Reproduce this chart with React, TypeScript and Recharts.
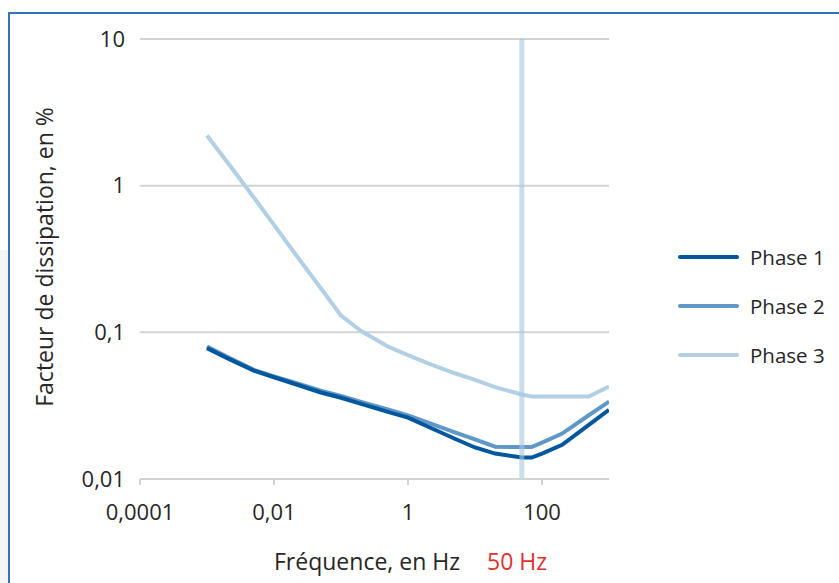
import React from 'react';
import { LineChart, Line, XAxis, YAxis, CartesianGrid, ReferenceLine } from 'recharts';

const freqs = [0.001, 0.002, 0.005, 0.01, 0.02, 0.05, 0.1, 0.2, 0.5, 1, 2, 5, 10, 20, 50, 70, 100, 200, 500, 1000];
const phase1 = [0.078, 0.0667, 0.0548, 0.0494, 0.0446, 0.0389, 0.0358, 0.0325, 0.0287, 0.0262, 0.0227, 0.0188, 0.0164, 0.0149, 0.014, 0.014, 0.0149, 0.0171, 0.0234, 0.0296];
const phase2 = [0.08, 0.068, 0.0555, 0.05, 0.0455, 0.04, 0.0368, 0.0336, 0.0298, 0.0271, 0.0242, 0.0208, 0.0186, 0.0166, 0.0165, 0.0165, 0.0177, 0.0204, 0.0272, 0.0337];
const phase3 = [2.2, 1.45, 0.83, 0.54, 0.35, 0.2, 0.13, 0.102, 0.08, 0.07, 0.0615, 0.0526, 0.0474, 0.0423, 0.0377, 0.0365, 0.0365, 0.0365, 0.0365, 0.0427];

const xTicks = [0.0001, 0.01, 1, 100];
const yTicks = [0.01, 0.1, 1, 10];

const series = [
  { key: 'p1', name: 'Phase 1', color: '#00579e' },
  { key: 'p2', name: 'Phase 2', color: '#5f98c6' },
  { key: 'p3', name: 'Phase 3', color: '#b2cfe4' },
];

const data = freqs.map((f, i) => ({ f, p1: phase1[i], p2: phase2[i], p3: phase3[i] }));

const fr = (v: number) => String(v).replace('.', ',');
const font = '"Open Sans", "Noto Sans", sans-serif';
const txt = '#262626';

export default function App() {
  return (
    <div style={{ position: 'absolute', left: 0, top: 0, width: 839, height: 583, background: '#fff', fontFamily: font, overflow: 'hidden' }}>
      <div style={{ position: 'absolute', left: 0, top: 250, width: 8, height: 333, background: '#f5f5f5' }} />
      <div style={{ position: 'absolute', left: 8, top: 12, width: 900, height: 700, borderTop: '2px solid #3273b4', borderLeft: '2px solid #3273b4' }} />
      <div style={{ position: 'absolute', left: 0, top: 0 }}>
        <LineChart width={839} height={583} data={data} margin={{ top: 39, right: 230, bottom: 64, left: 80 }}>
          <CartesianGrid vertical={false} stroke="#d3d3d3" strokeWidth={2} />
          <XAxis
            dataKey="f"
            type="number"
            scale="log"
            domain={[0.0001, 1000]}
            ticks={xTicks}
            tickFormatter={fr}
            height={40}
            stroke="#d3d3d3"
            strokeWidth={2}
            tickSize={6}
            tickMargin={19}
            tick={{ fill: txt, fontSize: 22, fontFamily: font }}
            allowDataOverflow
          />
          <YAxis
            type="number"
            scale="log"
            domain={[0.01, 10]}
            ticks={yTicks}
            tickFormatter={fr}
            width={60}
            axisLine={false}
            tickLine={false}
            tickSize={6}
            tickMargin={9}
            tick={{ fill: txt, fontSize: 22, fontFamily: font }}
            allowDataOverflow
          />
          {series.slice().reverse().map((s) => (
            <Line key={s.key} type="linear" dataKey={s.key} name={s.name} stroke={s.color} strokeWidth={4} dot={false} isAnimationActive={false} />
          ))}
          <ReferenceLine x={50} stroke="#a8c7e0" strokeOpacity={0.6} strokeWidth={5} />
        </LineChart>
      </div>
      <div style={{ position: 'absolute', left: 44, top: 257, transform: 'translate(-50%, -50%) rotate(-90deg)', whiteSpace: 'nowrap', fontSize: 23, color: txt }}>
        Facteur de dissipation, en %
      </div>
      <div style={{ position: 'absolute', left: 274, top: 545, whiteSpace: 'nowrap', fontSize: 23, color: txt }}>
        Fréquence, en Hz
        <span style={{ color: '#e03030', marginLeft: 27 }}>50 Hz</span>
      </div>
      {series.map((s, i) => (
        <div key={s.key} style={{ position: 'absolute', left: 678, top: 242 + i * 49, height: 30, display: 'flex', alignItems: 'center', whiteSpace: 'nowrap', fontSize: 20.5, color: txt }}>
          <span style={{ display: 'inline-block', width: 61, height: 4, borderRadius: 2, background: s.color, marginRight: 11 }} />
          {s.name}
        </div>
      ))}
    </div>
  );
}
